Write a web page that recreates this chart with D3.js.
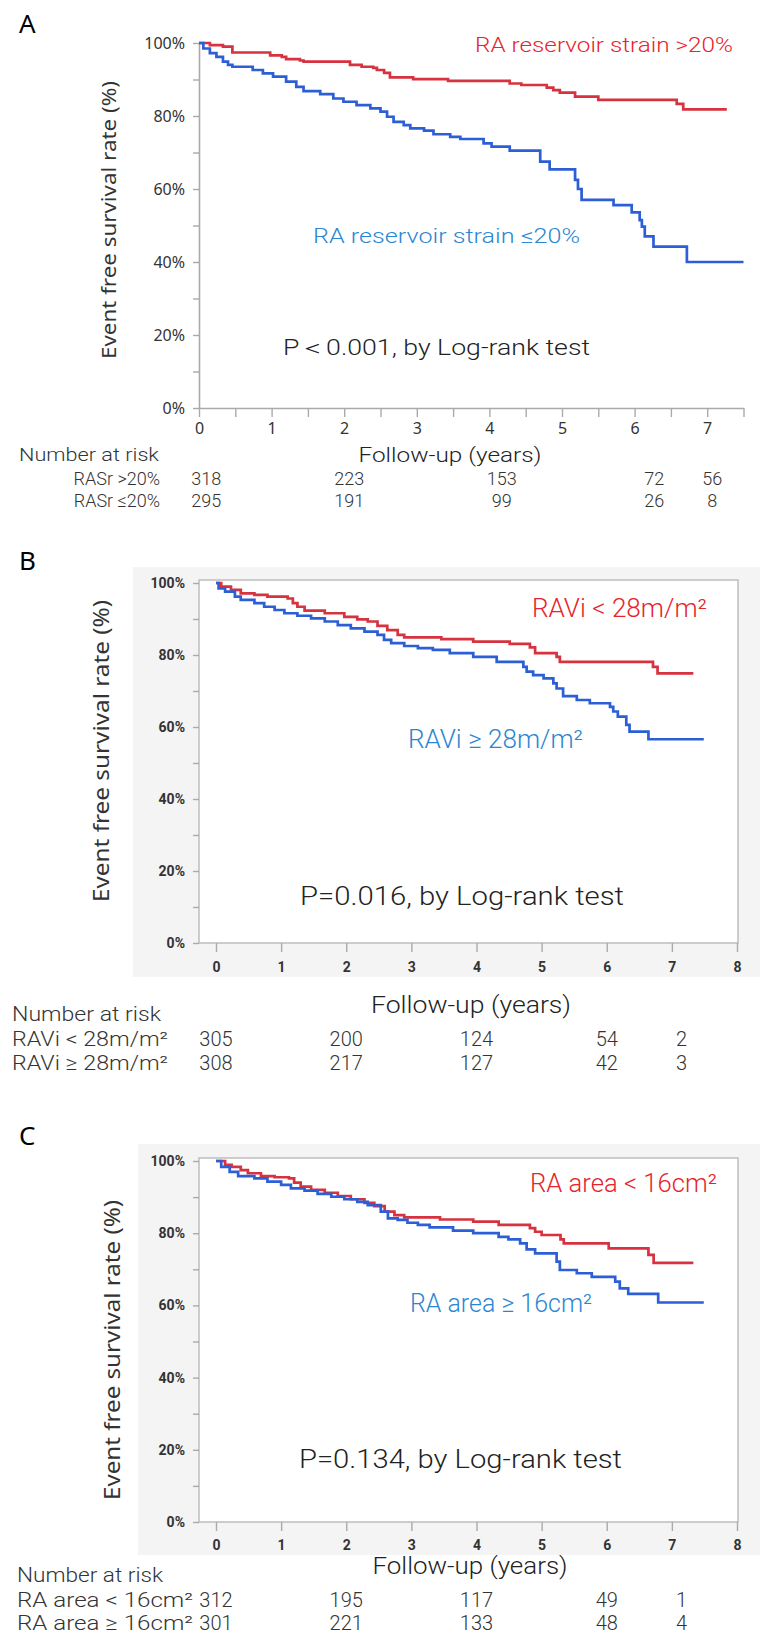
<!DOCTYPE html>
<html>
<head>
<meta charset="utf-8">
<script src="https://cdn.jsdelivr.net/npm/d3@7"></script>
<style>
  body { margin: 0; background: #fff; }
  svg { display: block; }
</style>
</head>
<body>
<svg id="chart" width="760" height="1638"></svg>
<script>
// Panel A: RA reservoir strain (time in years, event free survival in %)
const aStrainHigh = [[0,100],[0.15,99.4],[0.33,99.0],[0.46,97.4],[0.98,96.6],[1.14,96.2],[1.2,95.6],[1.39,95.2],[1.44,94.9],[2.08,94.0],[2.24,93.5],[2.4,93.2],[2.45,92.6],[2.55,91.8],[2.63,90.6],[2.95,90.1],[3.43,89.6],[4.28,88.9],[4.44,88.5],[4.79,87.8],[4.88,87.1],[4.97,86.4],[5.18,85.3],[5.5,84.4],[6.58,83.3],[6.67,81.8],[7.27,81.8]];
const aStrainLow = [[0,100],[0.06,98.5],[0.15,97.2],[0.24,96.2],[0.33,94.9],[0.4,94.0],[0.46,93.5],[0.74,92.6],[0.88,91.7],[1.02,90.8],[1.2,89.4],[1.34,88.0],[1.44,86.8],[1.67,86.0],[1.85,84.8],[1.99,83.9],[2.17,83.0],[2.36,82.1],[2.5,81.2],[2.59,79.8],[2.68,78.4],[2.82,77.5],[2.91,76.6],[3.1,76.0],[3.23,75.0],[3.46,74.3],[3.6,73.7],[3.92,72.5],[4.03,71.6],[4.28,70.5],[4.7,67.5],[4.83,65.4],[5.18,62.5],[5.22,60.0],[5.27,57.0],[5.71,55.6],[5.96,53.6],[6.07,51.5],[6.1,49.7],[6.14,47.0],[6.26,44.2],[6.72,40.0],[7.5,40.0]];
const aRiskHigh = [318, 223, 153, 72, 56];
const aRiskLow = [295, 191, 99, 26, 8];
const aRiskCols = [0.1, 2.07, 4.17, 6.27, 7.07];

// Panel B: RA volume index
const bVolSmall = [[0,100],[0.08,99.0],[0.23,98.1],[0.38,97.1],[0.59,96.7],[0.79,96.2],[1.1,95.7],[1.18,94.4],[1.25,93.4],[1.36,92.3],[1.67,91.6],[1.97,90.6],[2.17,89.9],[2.33,89.3],[2.48,88.1],[2.63,86.9],[2.79,85.6],[2.89,84.9],[3.46,84.4],[3.95,83.7],[4.51,83.1],[4.82,82.1],[4.9,80.5],[5.23,79.5],[5.28,78.1],[6.71,76.7],[6.78,74.9],[7.33,74.9]];
const bVolLarge = [[0,100],[0.04,98.5],[0.14,97.6],[0.29,96.2],[0.38,95.3],[0.59,94.4],[0.74,93.4],[0.9,92.5],[1.05,91.6],[1.25,90.9],[1.46,90.2],[1.67,89.3],[1.87,88.3],[2.07,87.4],[2.28,86.5],[2.48,85.6],[2.58,84.2],[2.69,83.3],[2.89,82.5],[3.1,81.9],[3.33,81.4],[3.59,80.5],[3.95,79.5],[4.31,78.1],[4.72,76.7],[4.77,75.4],[4.87,74.4],[5.03,73.5],[5.18,72.1],[5.23,70.7],[5.33,68.6],[5.54,67.5],[5.74,66.6],[6.05,65.6],[6.1,64.3],[6.17,62.9],[6.3,60.6],[6.35,58.7],[6.64,56.6],[7.49,56.6]];
const bRiskSmall = [305, 200, 124, 54, 2];
const bRiskLarge = [308, 217, 127, 42, 3];
const bRiskCols = [0, 2, 4, 6, 7.15];

// Panel C: RA area
const cAreaSmall = [[0,100],[0.14,98.9],[0.24,98.4],[0.38,97.5],[0.49,96.6],[0.69,95.8],[0.9,95.5],[1.12,95.2],[1.2,94.0],[1.3,92.9],[1.46,92.0],[1.67,91.2],[1.87,90.3],[2.07,89.4],[2.28,88.4],[2.43,87.5],[2.59,86.0],[2.74,85.0],[2.89,84.4],[3.44,83.8],[3.95,83.2],[4.34,82.3],[4.82,81.4],[4.9,80.4],[5.0,79.5],[5.29,78.3],[5.34,77.2],[6.03,75.8],[6.64,74.0],[6.72,71.8],[7.33,71.8]];
const cAreaLarge = [[0,100],[0.08,98.4],[0.21,97.0],[0.34,95.8],[0.59,95.2],[0.79,94.3],[1.0,93.4],[1.15,92.4],[1.36,91.8],[1.56,90.9],[1.77,90.1],[1.97,89.4],[2.17,88.7],[2.33,87.8],[2.53,86.0],[2.64,84.1],[2.79,83.7],[2.94,82.9],[3.1,82.3],[3.28,81.6],[3.64,80.7],[3.95,80.0],[4.34,79.0],[4.49,78.3],[4.67,77.2],[4.77,75.5],[4.9,74.4],[5.23,72.1],[5.28,69.8],[5.54,68.9],[5.77,67.9],[6.13,66.6],[6.2,64.7],[6.33,63.2],[6.79,60.8],[7.49,60.8]];
const cRiskSmall = [312, 195, 117, 49, 1];
const cRiskLarge = [301, 221, 133, 48, 4];
const cRiskCols = [0, 2, 4, 6, 7.15];

const yTicks = d3.range(0, 101, 10);

const RED_LINE = '#d6323f';
const BLUE_LINE = '#2c5fd6';
const RED_TEXT = '#e8232b';
const BLUE_TEXT = '#2b86d2';
const NARROW = '"Liberation Sans Narrow", "Roboto", "Liberation Sans", sans-serif';
const SANS = '"Noto Sans", "Open Sans", sans-serif';

const svg = d3.select('#chart');

function label(g, txt, x, y, o) {
    const t = g.append('text')
        .attr('x', x)
        .attr('y', y)
        .attr('font-family', o.font || NARROW)
        .attr('font-size', o.size)
        .attr('font-weight', o.weight || 300)
        .attr('fill', o.color || '#222')
        .attr('text-anchor', o.anchor || 'start')
        .text(txt);
    if (o.dy) t.attr('dy', o.dy);
    if (o.len) t.attr('textLength', o.len).attr('lengthAdjust', 'spacingAndGlyphs');
    return t;
}

function drawPanel(p) {
    const g = svg.append('g');

    // grey backdrop and white plot box (panels B and C)
    if (p.bg) {
        g.append('rect').attr('x', p.bg[0]).attr('y', p.bg[1])
            .attr('width', p.bg[2] - p.bg[0]).attr('height', p.bg[3] - p.bg[1])
            .attr('fill', '#f4f4f4');
    }
    if (p.frame) {
        g.append('rect').attr('x', p.frame[0]).attr('y', p.frame[1])
            .attr('width', p.frame[2] - p.frame[0]).attr('height', p.frame[3] - p.frame[1])
            .attr('fill', '#fff').attr('stroke', '#bdbdbd').attr('stroke-width', 1.5);
    }

    const x = d3.scaleLinear().domain(p.xDomain).range(p.xRange);
    const y = d3.scaleLinear().domain([0, 100]).range(p.yRange);

    // y axis
    const ya = g.append('g')
        .attr('transform', `translate(${p.yAxisX},0)`)
        .call(d3.axisLeft(y).tickValues(yTicks).tickSize(6).tickSizeOuter(0).tickPadding(8)
            .tickFormat(d => d % 20 === 0 ? d + '%' : ''));
    ya.select('.domain').attr('stroke', '#aaa').attr('stroke-width', p.frame ? 0 : 1.6);
    ya.selectAll('.tick line').attr('stroke', '#aaa').attr('stroke-width', 1.4);
    ya.selectAll('.tick text')
        .attr('font-family', p.tickFont).attr('font-size', p.tickSize)
        .attr('font-weight', p.tickWeight).attr('fill', '#333');

    // x axis
    const xa = g.append('g')
        .attr('transform', `translate(0,${p.yRange[0]})`)
        .call(d3.axisBottom(x).tickValues(p.xTicks).tickSize(p.xTickLen).tickSizeOuter(0)
            .tickFormat(d => Number.isInteger(d) ? d : ''));
    xa.select('.domain').attr('stroke', '#aaa').attr('stroke-width', p.frame ? 0 : 1.6);
    xa.selectAll('.tick line').attr('stroke', '#aaa').attr('stroke-width', 1.4);
    xa.selectAll('.tick text')
        .attr('y', p.xLabelOffset).attr('dy', '0.35em')
        .attr('font-family', p.tickFont).attr('font-size', p.tickSize)
        .attr('font-weight', p.tickWeight).attr('fill', '#333');

    // survival curves
    const line = d3.line()
        .x(d => x(d[0]))
        .y(d => y(d[1]))
        .curve(d3.curveStepAfter);
    p.curves.forEach(c => {
        g.append('path').datum(c.data)
            .attr('fill', 'none')
            .attr('stroke', c.color)
            .attr('stroke-width', 2.7)
            .attr('stroke-linejoin', 'miter')
            .attr('d', line);
    });

    // panel letter, y title, annotations
    label(g, p.letter, 19, p.letterY, { font: SANS, size: 26, color: '#000', weight: 400 });
    label(g, 'Event free survival rate (%)', 0, 0, {
        font: SANS, size: p.yTitleSize, color: '#333', anchor: 'middle', dy: '0.35em', len: p.yTitleLen, weight: 400
    }).attr('transform', `translate(${p.yTitleX},${p.yTitleY}) rotate(-90)`);
    p.notes.forEach(n => label(g, n.text, n.x, n.y, { size: n.size, color: n.color, len: n.len }));

    // number-at-risk table
    const r = p.risk;
    label(g, 'Number at risk', r.left, r.headY, { size: r.size, color: '#333', dy: '0.35em', len: r.headLen });
    label(g, 'Follow-up (years)', r.follX, r.follY, { size: r.follSize, color: '#222', anchor: 'middle', dy: '0.35em', len: r.follLen });
    r.rows.forEach((row, i) => {
        const ry = r.rowY[i];
        label(g, row.name, r.nameX, ry, { size: r.size, color: '#333', anchor: r.nameAnchor, dy: '0.35em', len: r.nameLen });
        g.append('g').selectAll('text')
            .data(row.values)
            .join('text')
            .attr('x', (d, j) => x(r.cols[j]))
            .attr('y', ry)
            .attr('dy', '0.35em')
            .attr('text-anchor', 'middle')
            .attr('font-family', NARROW)
            .attr('font-weight', 300)
            .attr('font-size', r.size)
            .attr('fill', '#333')
            .text(d => d);
    });
}

// Panel A
drawPanel({
    letter: 'A', letterY: 33,
    xDomain: [0, 7.5], xRange: [199, 743.5], yRange: [408, 43], yAxisX: 199,
    xTicks: d3.range(0, 7.51, 0.5), xTickLen: 9, xLabelOffset: 20,
    tickFont: SANS, tickSize: 16, tickWeight: 400,
    yTitleX: 109, yTitleY: 220, yTitleSize: 20, yTitleLen: 278,
    curves: [{ data: aStrainHigh, color: RED_LINE }, { data: aStrainLow, color: BLUE_LINE }],
    notes: [
        { text: 'RA reservoir strain >20%', x: 475, y: 52, size: 20, color: RED_TEXT, len: 258 },
        { text: 'RA reservoir strain  ≤20%', x: 313, y: 243, size: 20, color: BLUE_TEXT, len: 267 },
        { text: 'P＜0.001, by Log-rank test', x: 283, y: 355, size: 22, color: '#222', len: 307 }
    ],
    risk: {
        left: 19, headY: 455, headLen: 140, size: 18,
        follX: 450, follY: 455, follSize: 21, follLen: 183,
        nameX: 160, nameAnchor: 'end', nameLen: null,
        rowY: [479, 501], cols: aRiskCols,
        rows: [{ name: 'RASr >20%', values: aRiskHigh }, { name: 'RASr ≤20%', values: aRiskLow }]
    }
});

// Panel B
drawPanel({
    letter: 'B', letterY: 570,
    bg: [133, 567, 760, 977], frame: [199, 580, 738, 943],
    xDomain: [0, 8], xRange: [216, 737], yRange: [943, 583], yAxisX: 199,
    xTicks: d3.range(0, 9), xTickLen: 9, xLabelOffset: 24,
    tickFont: NARROW, tickSize: 14, tickWeight: 700,
    yTitleX: 101, yTitleY: 751, yTitleSize: 22, yTitleLen: 302,
    curves: [{ data: bVolSmall, color: RED_LINE }, { data: bVolLarge, color: BLUE_LINE }],
    notes: [
        { text: 'RAVi < 28m/m²', x: 532, y: 617, size: 25, color: RED_TEXT, len: 175 },
        { text: 'RAVi ≥ 28m/m²', x: 408, y: 748, size: 25, color: BLUE_TEXT, len: 175 },
        { text: 'P=0.016, by Log-rank test', x: 300, y: 905, size: 25, color: '#222', len: 324 }
    ],
    risk: {
        left: 12, headY: 1014, headLen: 149, size: 20,
        follX: 471, follY: 1005, follSize: 23, follLen: 200,
        nameX: 12, nameAnchor: 'start', nameLen: 156,
        rowY: [1039, 1063], cols: bRiskCols,
        rows: [{ name: 'RAVi < 28m/m²', values: bRiskSmall }, { name: 'RAVi ≥ 28m/m²', values: bRiskLarge }]
    }
});

// Panel C
drawPanel({
    letter: 'C', letterY: 1145,
    bg: [138, 1144, 760, 1555], frame: [199, 1158, 738, 1522],
    xDomain: [0, 8], xRange: [216, 737], yRange: [1522, 1161], yAxisX: 199,
    xTicks: d3.range(0, 9), xTickLen: 9, xLabelOffset: 23,
    tickFont: NARROW, tickSize: 14, tickWeight: 700,
    yTitleX: 112, yTitleY: 1350, yTitleSize: 22, yTitleLen: 300,
    curves: [{ data: cAreaSmall, color: RED_LINE }, { data: cAreaLarge, color: BLUE_LINE }],
    notes: [
        { text: 'RA area < 16cm²', x: 530, y: 1192, size: 25, color: RED_TEXT, len: 187 },
        { text: 'RA area ≥ 16cm²', x: 410, y: 1312, size: 25, color: BLUE_TEXT, len: 182 },
        { text: 'P=0.134, by Log-rank test', x: 299, y: 1468, size: 25, color: '#222', len: 323 }
    ],
    risk: {
        left: 17, headY: 1575, headLen: 146, size: 20,
        follX: 470, follY: 1566, follSize: 23, follLen: 195,
        nameX: 17, nameAnchor: 'start', nameLen: 176,
        rowY: [1600, 1623], cols: cRiskCols,
        rows: [{ name: 'RA area < 16cm²', values: cRiskSmall }, { name: 'RA area ≥ 16cm²', values: cRiskLarge }]
    }
});
</script>
</body>
</html>
